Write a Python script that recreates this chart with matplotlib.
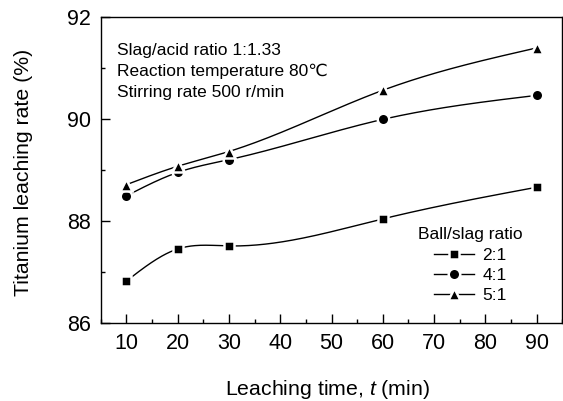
import numpy as np
import matplotlib
matplotlib.use("Agg")
import matplotlib.pyplot as plt
from matplotlib.lines import Line2D
from matplotlib.ticker import MultipleLocator

plt.rcParams['font.family'] = ['Liberation Sans', 'DejaVu Sans']
plt.rcParams['mathtext.fontset'] = 'custom'
plt.rcParams['mathtext.it'] = 'Liberation Sans:italic'
plt.rcParams['mathtext.rm'] = 'Liberation Sans'

time_min = [10, 20, 30, 60, 90]
series_labels = ["2:1", "4:1", "5:1"]
rate_2_1 = [86.83, 87.46, 87.52, 88.05, 88.67]
rate_4_1 = [88.50, 88.96, 89.21, 90.00, 90.47]
rate_5_1 = [88.72, 89.08, 89.37, 90.57, 91.40]
markers = ["s", "o", "^"]
marker_sizes = [7.8, 8.3, 9.2]
notes = ["Slag/acid ratio 1:1.33", "Reaction temperature 80℃", "Stirring rate 500 r/min"]


def natural_spline(x, y, n=300):
    x = np.asarray(x, float)
    y = np.asarray(y, float)
    k = len(x)
    h = np.diff(x)
    A = np.zeros((k, k))
    b = np.zeros(k)
    A[0, 0] = 1
    A[-1, -1] = 1
    for i in range(1, k - 1):
        A[i, i - 1] = h[i - 1]
        A[i, i] = 2 * (h[i - 1] + h[i])
        A[i, i + 1] = h[i]
        b[i] = 6 * ((y[i + 1] - y[i]) / h[i] - (y[i] - y[i - 1]) / h[i - 1])
    M = np.linalg.solve(A, b)
    xs = np.linspace(x[0], x[-1], n)
    ys = np.empty_like(xs)
    for j, xv in enumerate(xs):
        i = min(np.searchsorted(x, xv, side='right') - 1, k - 2)
        t1 = x[i + 1] - xv
        t0 = xv - x[i]
        ys[j] = (M[i] * t1 ** 3 / (6 * h[i]) + M[i + 1] * t0 ** 3 / (6 * h[i])
                 + (y[i] / h[i] - M[i] * h[i] / 6) * t1
                 + (y[i + 1] / h[i] - M[i + 1] * h[i] / 6) * t0)
    return xs, ys


fig = plt.figure(figsize=(5.63, 4.01), dpi=100)
ax = fig.add_axes([0.1789, 0.1933, 0.8200, 0.7636])

handles = []
for vals, m, ms, lab in zip([rate_2_1, rate_4_1, rate_5_1], markers, marker_sizes, series_labels):
    xs, ys = natural_spline(time_min, vals)
    ax.plot(xs, ys, color='black', lw=1.0, zorder=2)
    ax.plot(time_min, vals, linestyle='none', marker=m, ms=ms, color='black',
            mec='white', mew=1.8, zorder=3)
    handles.append(Line2D([0], [0], color='black', lw=1.0, marker=m, ms=ms,
                          mec='white', mew=1.8, label=lab))

ax.set_xlim(5, 95)
ax.set_ylim(86, 92)
ax.set_xticks([10, 20, 30, 40, 50, 60, 70, 80, 90])
ax.xaxis.set_minor_locator(MultipleLocator(5))
ax.set_yticks([86, 88, 90, 92])
ax.yaxis.set_minor_locator(MultipleLocator(1))
ax.tick_params(which='major', direction='in', length=6.5, width=1, labelsize=15.5, pad=7)
ax.tick_params(which='minor', direction='in', length=3, width=1)
for s in ax.spines.values():
    s.set_linewidth(1.0)

ax.set_xlabel("Leaching time, $\\mathit{t}$ (min)", fontsize=15.3)
ax.xaxis.label.set_va('baseline')
ax.xaxis.set_label_coords(0.491, -0.2335)
ax.set_ylabel("Titanium leaching rate (%)", fontsize=15.3)
ax.yaxis.label.set_va('center')
ax.yaxis.set_label_coords(-0.168, 0.495)

for yv, txt in zip([0.877, 0.808, 0.741], notes):
    ax.text(0.036, yv, txt, transform=ax.transAxes, fontsize=12.5,
            va='baseline', ha='left')

leg = ax.legend(handles=handles, title="Ball/slag ratio", loc='upper left',
                bbox_to_anchor=(0.7425, 0.433), bbox_transform=fig.transFigure,
                frameon=False, fontsize=12.5, title_fontsize=12.5,
                handlelength=2.3, labelspacing=0.3, handletextpad=0.5,
                borderpad=0, borderaxespad=0)

fig.savefig("out.png", dpi=100)
